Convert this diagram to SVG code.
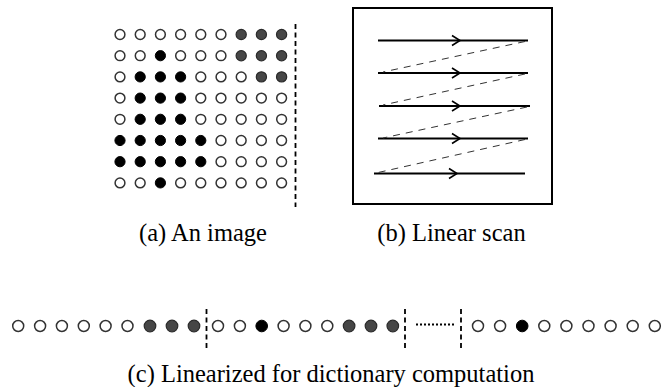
<svg xmlns="http://www.w3.org/2000/svg" width="661" height="387" viewBox="0 0 661 387">
  <style>
    .e { fill: #fff; stroke: #333; stroke-width: 1.5; }
    .g { fill: #464646; stroke: #2a2a2a; stroke-width: 1.2; }
    .b { fill: #000; stroke: #000; stroke-width: 1; }
    .sep { stroke: #000; stroke-width: 1.8; stroke-dasharray: 5 3.5; fill: none; }
    .scan { stroke: #000; stroke-width: 2.2; fill: none; }
    .ret { stroke: #333; stroke-width: 1; stroke-dasharray: 7 6; fill: none; }
    .head { stroke: #000; stroke-width: 1.6; fill: none; }
    .cap { font-family: "Liberation Serif", "Times New Roman", serif; font-size: 24.5px; fill: #000; }
  </style>

  <!-- (a) 9x8 pixel grid; columns 20.2 apart, rows 21.2 apart -->
  <g id="image-grid">
    <!-- row 0 -->
    <circle class="e" cx="120" cy="34.5" r="4.9"/><circle class="e" cx="140.2" cy="34.5" r="4.9"/><circle class="e" cx="160.4" cy="34.5" r="4.9"/><circle class="e" cx="180.6" cy="34.5" r="4.9"/><circle class="e" cx="200.8" cy="34.5" r="4.9"/><circle class="e" cx="221" cy="34.5" r="4.9"/><circle class="g" cx="241.2" cy="34.5" r="5.1"/><circle class="g" cx="261.4" cy="34.5" r="5.1"/><circle class="g" cx="281.6" cy="34.5" r="5.1"/>
    <!-- row 1 -->
    <circle class="e" cx="120" cy="55.7" r="4.9"/><circle class="e" cx="140.2" cy="55.7" r="4.9"/><circle class="b" cx="160.4" cy="55.7" r="5.1"/><circle class="e" cx="180.6" cy="55.7" r="4.9"/><circle class="e" cx="200.8" cy="55.7" r="4.9"/><circle class="e" cx="221" cy="55.7" r="4.9"/><circle class="g" cx="241.2" cy="55.7" r="5.1"/><circle class="g" cx="261.4" cy="55.7" r="5.1"/><circle class="g" cx="281.6" cy="55.7" r="5.1"/>
    <!-- row 2 -->
    <circle class="e" cx="120" cy="76.9" r="4.9"/><circle class="b" cx="140.2" cy="76.9" r="5.1"/><circle class="b" cx="160.4" cy="76.9" r="5.1"/><circle class="b" cx="180.6" cy="76.9" r="5.1"/><circle class="e" cx="200.8" cy="76.9" r="4.9"/><circle class="e" cx="221" cy="76.9" r="4.9"/><circle class="e" cx="241.2" cy="76.9" r="4.9"/><circle class="g" cx="261.4" cy="76.9" r="5.1"/><circle class="g" cx="281.6" cy="76.9" r="5.1"/>
    <!-- row 3 -->
    <circle class="e" cx="120" cy="98.1" r="4.9"/><circle class="b" cx="140.2" cy="98.1" r="5.1"/><circle class="b" cx="160.4" cy="98.1" r="5.1"/><circle class="b" cx="180.6" cy="98.1" r="5.1"/><circle class="e" cx="200.8" cy="98.1" r="4.9"/><circle class="e" cx="221" cy="98.1" r="4.9"/><circle class="e" cx="241.2" cy="98.1" r="4.9"/><circle class="e" cx="261.4" cy="98.1" r="4.9"/><circle class="e" cx="281.6" cy="98.1" r="4.9"/>
    <!-- row 4 -->
    <circle class="e" cx="120" cy="119.3" r="4.9"/><circle class="b" cx="140.2" cy="119.3" r="5.1"/><circle class="b" cx="160.4" cy="119.3" r="5.1"/><circle class="b" cx="180.6" cy="119.3" r="5.1"/><circle class="e" cx="200.8" cy="119.3" r="4.9"/><circle class="e" cx="221" cy="119.3" r="4.9"/><circle class="e" cx="241.2" cy="119.3" r="4.9"/><circle class="e" cx="261.4" cy="119.3" r="4.9"/><circle class="e" cx="281.6" cy="119.3" r="4.9"/>
    <!-- row 5 -->
    <circle class="b" cx="120" cy="140.5" r="5.1"/><circle class="b" cx="140.2" cy="140.5" r="5.1"/><circle class="b" cx="160.4" cy="140.5" r="5.1"/><circle class="b" cx="180.6" cy="140.5" r="5.1"/><circle class="b" cx="200.8" cy="140.5" r="5.1"/><circle class="e" cx="221" cy="140.5" r="4.9"/><circle class="e" cx="241.2" cy="140.5" r="4.9"/><circle class="e" cx="261.4" cy="140.5" r="4.9"/><circle class="e" cx="281.6" cy="140.5" r="4.9"/>
    <!-- row 6 -->
    <circle class="b" cx="120" cy="161.7" r="5.1"/><circle class="b" cx="140.2" cy="161.7" r="5.1"/><circle class="b" cx="160.4" cy="161.7" r="5.1"/><circle class="b" cx="180.6" cy="161.7" r="5.1"/><circle class="b" cx="200.8" cy="161.7" r="5.1"/><circle class="e" cx="221" cy="161.7" r="4.9"/><circle class="e" cx="241.2" cy="161.7" r="4.9"/><circle class="e" cx="261.4" cy="161.7" r="4.9"/><circle class="e" cx="281.6" cy="161.7" r="4.9"/>
    <!-- row 7 -->
    <circle class="e" cx="120" cy="182.9" r="4.9"/><circle class="e" cx="140.2" cy="182.9" r="4.9"/><circle class="b" cx="160.4" cy="182.9" r="5.1"/><circle class="e" cx="180.6" cy="182.9" r="4.9"/><circle class="e" cx="200.8" cy="182.9" r="4.9"/><circle class="e" cx="221" cy="182.9" r="4.9"/><circle class="e" cx="241.2" cy="182.9" r="4.9"/><circle class="e" cx="261.4" cy="182.9" r="4.9"/><circle class="e" cx="281.6" cy="182.9" r="4.9"/>
    <line class="sep" x1="295.5" y1="24" x2="295.5" y2="207"/>
  </g>

  <!-- (b) raster scan frame -->
  <g id="scan-frame">
    <rect x="353" y="8" width="199" height="196" fill="none" stroke="#000" stroke-width="2"/>
  </g>
  <g id="scan-connectors">
    <line class="scan" x1="378" y1="40.5" x2="528" y2="40.5"/>
    <line class="scan" x1="378" y1="73" x2="528" y2="73"/>
    <line class="scan" x1="379" y1="106" x2="530" y2="106"/>
    <line class="scan" x1="378" y1="138.5" x2="528" y2="138.5"/>
    <line class="scan" x1="374" y1="173.5" x2="525" y2="173.5"/>
    <polyline class="head" points="452,35.5 460,40.5 452,45.5"/>
    <polyline class="head" points="452,68 460,73 452,78"/>
    <polyline class="head" points="452,101 460,106 452,111"/>
    <polyline class="head" points="452,133.5 460,138.5 452,143.5"/>
    <polyline class="head" points="449,168.5 457,173.5 449,178.5"/>
    <line class="ret" x1="525" y1="41.5" x2="383" y2="72"/>
    <line class="ret" x1="525" y1="74" x2="383" y2="105"/>
    <line class="ret" x1="527" y1="107" x2="383" y2="138"/>
    <line class="ret" x1="525" y1="139.5" x2="376" y2="173"/>
  </g>

  <!-- (c) linearized pixel sequence -->
  <g id="linear-sequence">
    <circle class="e" cx="18.2" cy="326" r="5.5"/><circle class="e" cx="40.1" cy="326" r="5.5"/><circle class="e" cx="61.9" cy="326" r="5.5"/><circle class="e" cx="83.8" cy="326" r="5.5"/><circle class="e" cx="105.6" cy="326" r="5.5"/><circle class="e" cx="127.5" cy="326" r="5.5"/><circle class="g" cx="150" cy="326" r="5.8"/><circle class="g" cx="172" cy="326" r="5.8"/><circle class="g" cx="194" cy="326" r="5.8"/>
    <circle class="e" cx="218" cy="326" r="5.5"/><circle class="e" cx="239.9" cy="326" r="5.5"/><circle class="b" cx="261.7" cy="326" r="5.8"/><circle class="e" cx="283.6" cy="326" r="5.5"/><circle class="e" cx="305.4" cy="326" r="5.5"/><circle class="e" cx="327.3" cy="326" r="5.5"/><circle class="g" cx="349.1" cy="326" r="5.8"/><circle class="g" cx="371" cy="326" r="5.8"/><circle class="g" cx="392.8" cy="326" r="5.8"/>
    <circle class="e" cx="478" cy="326" r="5.5"/><circle class="e" cx="500.1" cy="326" r="5.5"/><circle class="b" cx="522.2" cy="326" r="5.8"/><circle class="e" cx="544.3" cy="326" r="5.5"/><circle class="e" cx="566.4" cy="326" r="5.5"/><circle class="e" cx="588.5" cy="326" r="5.5"/><circle class="e" cx="610.6" cy="326" r="5.5"/><circle class="e" cx="632.7" cy="326" r="5.5"/><circle class="e" cx="654.8" cy="326" r="5.5"/>
    <line class="sep" x1="206.5" y1="309" x2="206.5" y2="348"/>
    <line class="sep" x1="405" y1="309" x2="405" y2="348"/>
    <line class="sep" x1="461" y1="309" x2="461" y2="348"/>
    <line x1="416" y1="324.5" x2="454" y2="324.5" stroke="#000" stroke-width="1.8" stroke-dasharray="2 2"/>
  </g>

  <!-- captions -->
  <text class="cap" x="203" y="241" text-anchor="middle">(a) An image</text>
  <text class="cap" x="451.5" y="241" text-anchor="middle">(b) Linear scan</text>
  <text class="cap" x="331" y="381.5" text-anchor="middle">(c) Linearized for dictionary computation</text>
</svg>
